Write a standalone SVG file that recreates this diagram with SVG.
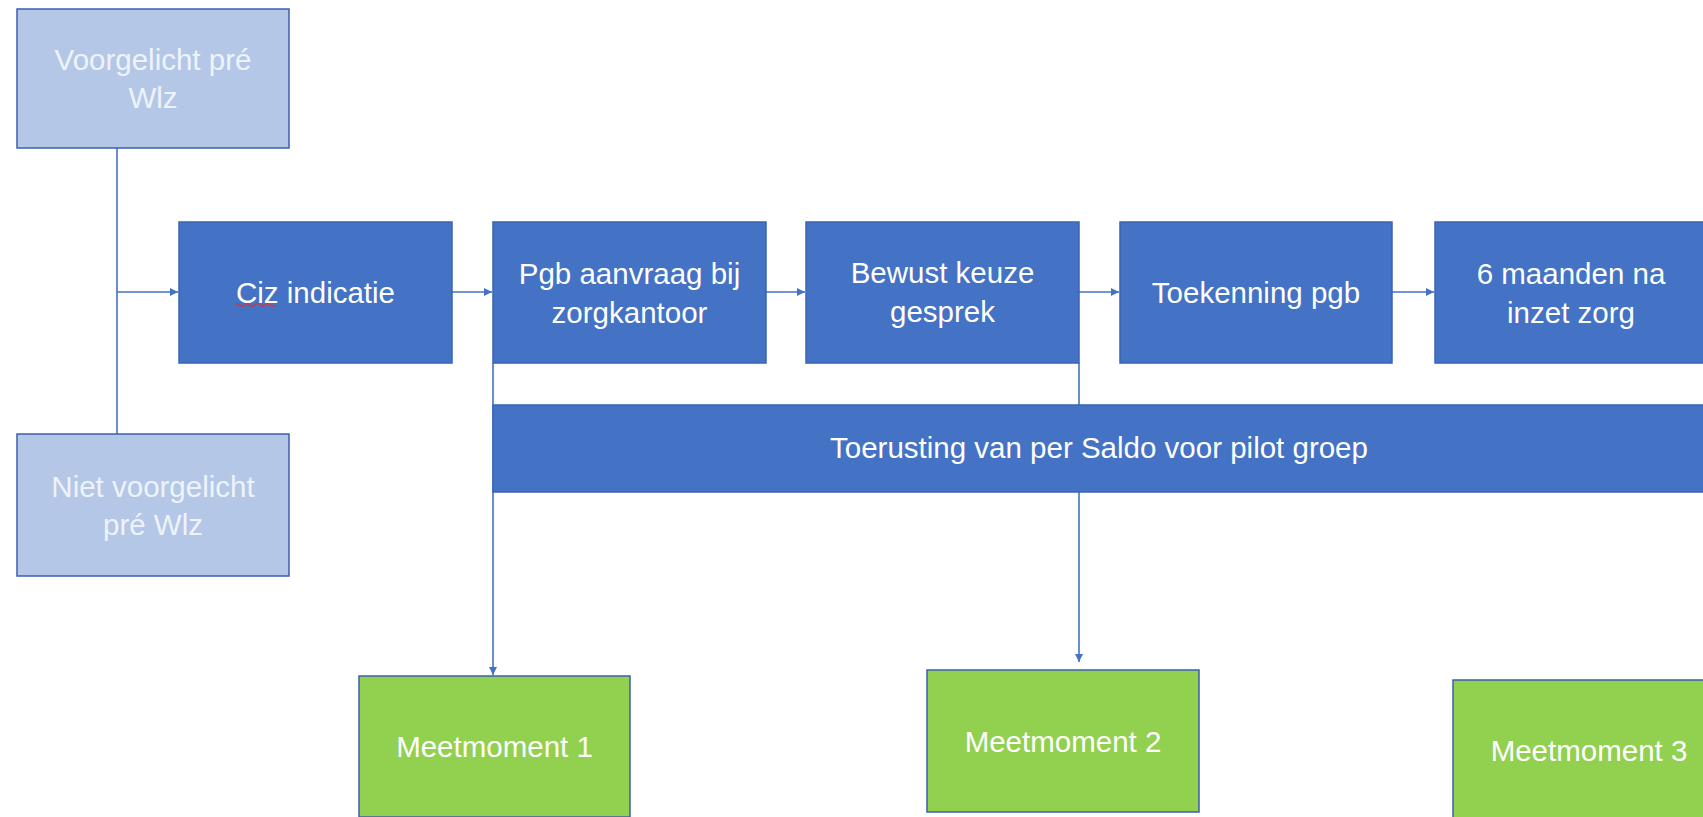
<svg xmlns="http://www.w3.org/2000/svg" width="1703" height="817" viewBox="0 0 1703 817">
  <style>
    .dark { fill: #4472C4; stroke: #3A64B4; stroke-width: 1.5; }
    .light { fill: #B4C7E7; stroke: #3B5FAE; stroke-width: 1.5; }
    .green { fill: #92D050; stroke: #3B5FAE; stroke-width: 1.5; }
    .lbl { font-family: "Liberation Sans", Arial, sans-serif; font-size: 29.5px; fill: #FFFFFF; text-anchor: middle; }
    .lbl-light { font-family: "Liberation Sans", Arial, sans-serif; font-size: 29.5px; fill: #EEF3FB; text-anchor: middle; }
    .conn { fill: none; stroke: #4472C4; stroke-width: 1.6; }
  </style>
  <defs>
    <marker id="ah" viewBox="0 0 10 10" refX="10" refY="5" markerWidth="9" markerHeight="8" orient="auto" markerUnits="userSpaceOnUse">
      <path d="M0,0 L10,5 L0,10 z" fill="#4472C4"/>
    </marker>
  </defs>
  <rect x="0" y="0" width="1703" height="817" fill="#FFFFFF"/>

  <g id="connectors">
    <path class="conn" d="M117,148 L117,434"/>
    <path class="conn" d="M117,292 L178,292" marker-end="url(#ah)"/>
    <path class="conn" d="M452,292 L492,292" marker-end="url(#ah)"/>
    <path class="conn" d="M766,292 L805,292" marker-end="url(#ah)"/>
    <path class="conn" d="M1079,292 L1119,292" marker-end="url(#ah)"/>
    <path class="conn" d="M1392,292 L1434,292" marker-end="url(#ah)"/>
    <path class="conn" d="M493,363 L493,675" marker-end="url(#ah)"/>
    <path class="conn" d="M1079,363 L1079,662" marker-end="url(#ah)"/>
  </g>

  <g id="node-voorgelicht">
    <rect class="light" x="17" y="9" width="272" height="139"/>
    <text class="lbl-light" x="153" y="70">Voorgelicht pré</text>
    <text class="lbl-light" x="153" y="108">Wlz</text>
  </g>

  <g id="node-niet-voorgelicht">
    <rect class="light" x="17" y="434" width="272" height="142"/>
    <text class="lbl-light" x="153" y="497">Niet voorgelicht</text>
    <text class="lbl-light" x="153" y="535">pré Wlz</text>
  </g>

  <g id="node-ciz">
    <rect class="dark" x="179" y="222" width="273" height="141"/>
    <text class="lbl" x="315.5" y="303">Ciz indicatie</text>
    <path d="M235,305 q2.5,-2.5 5,0 t5,0 t5,0 t5,0 t5,0 t5,0 t5,0 t5,0" fill="none" stroke="#E03030" stroke-width="1.2"/>
  </g>

  <g id="node-pgb">
    <rect class="dark" x="493" y="222" width="273" height="141"/>
    <text class="lbl" x="629.5" y="284">Pgb aanvraag bij</text>
    <text class="lbl" x="629.5" y="323">zorgkantoor</text>
  </g>

  <g id="node-bewust">
    <rect class="dark" x="806" y="222" width="273" height="141"/>
    <text class="lbl" x="942.5" y="283">Bewust keuze</text>
    <text class="lbl" x="942.5" y="322">gesprek</text>
  </g>

  <g id="node-toekenning">
    <rect class="dark" x="1120" y="222" width="272" height="141"/>
    <text class="lbl" x="1256" y="303">Toekenning pgb</text>
  </g>

  <g id="node-6maanden">
    <rect class="dark" x="1435" y="222" width="273" height="141"/>
    <text class="lbl" x="1571" y="284">6 maanden na</text>
    <text class="lbl" x="1571" y="323">inzet zorg</text>
  </g>

  <g id="node-toerusting">
    <rect class="dark" x="493" y="405" width="1220" height="87"/>
    <text class="lbl" x="1099" y="458">Toerusting van per Saldo voor pilot groep</text>
  </g>

  <g id="node-meetmoment1">
    <rect class="green" x="359" y="676" width="271" height="141"/>
    <text class="lbl" x="494.5" y="757">Meetmoment 1</text>
  </g>

  <g id="node-meetmoment2">
    <rect class="green" x="927" y="670" width="272" height="142"/>
    <text class="lbl" x="1063" y="752">Meetmoment 2</text>
  </g>

  <g id="node-meetmoment3">
    <rect class="green" x="1453" y="680" width="272" height="141"/>
    <text class="lbl" x="1589" y="761">Meetmoment 3</text>
  </g>
</svg>
